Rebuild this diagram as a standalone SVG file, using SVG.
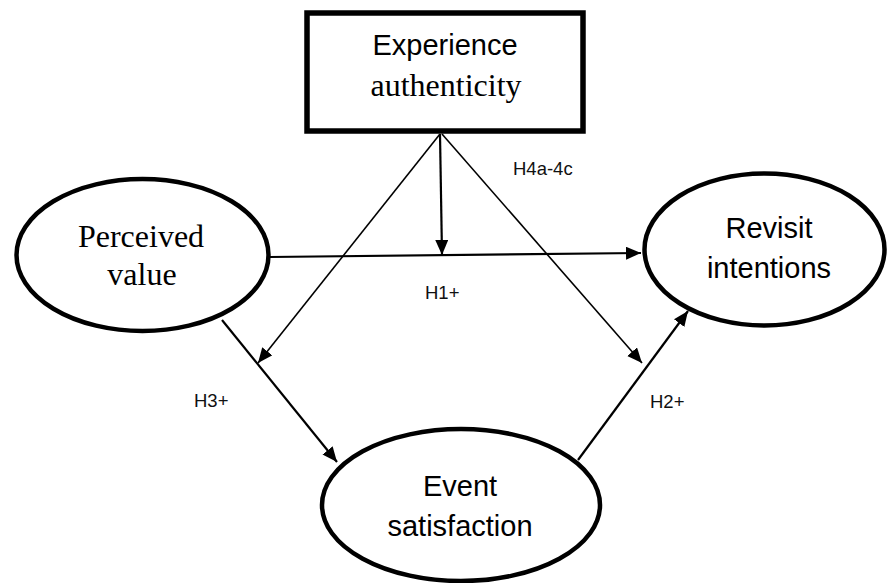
<svg xmlns="http://www.w3.org/2000/svg" width="888" height="583" viewBox="0 0 888 583">
<style>
.node{fill:#fff;stroke:#000;stroke-width:4.5}
.box{fill:#fff;stroke:#000;stroke-width:5.5}
.serif{font-family:"Liberation Serif","Times New Roman",serif;font-size:32px;fill:#000;text-anchor:middle}
.sans{font-family:"Liberation Sans",Arial,sans-serif;font-size:29px;fill:#000;text-anchor:middle}
.lbl{font-family:"Liberation Sans",Arial,sans-serif;font-size:18.5px;fill:#111}
.c{fill:none;stroke:#000;stroke-width:2.2}
.thin{stroke-width:1.6}
</style>
<defs>
<marker id="ah" markerUnits="userSpaceOnUse" markerWidth="16" markerHeight="14" refX="15" refY="6.5" orient="auto">
<path d="M0,0 L15,6.5 L0,13 z" fill="#000"/>
</marker>
</defs>
<rect width="888" height="583" fill="#fff"/>
<g id="connectors">
<line class="c" x1="270" y1="257" x2="641" y2="253" marker-end="url(#ah)"/>
<line class="c" x1="440" y1="134" x2="442" y2="255" marker-end="url(#ah)"/>
<line class="c thin" x1="440" y1="134" x2="258" y2="363" marker-end="url(#ah)"/>
<line class="c thin" x1="442" y1="134" x2="642" y2="363" marker-end="url(#ah)"/>
<line class="c" x1="222" y1="320" x2="337" y2="462" marker-end="url(#ah)"/>
<line class="c" x1="578" y1="460" x2="688" y2="311" marker-end="url(#ah)"/>
</g>
<g id="labels">
<text class="lbl" x="513" y="175">H4a-4c</text>
<text class="lbl" x="425" y="299">H1+</text>
<text class="lbl" x="194" y="407">H3+</text>
<text class="lbl" x="650" y="408">H2+</text>
</g>
<g id="experience-authenticity">
<rect class="box" x="307" y="13" width="276" height="118"/>
<text class="sans" x="445" y="55">Experience</text>
<text class="serif" x="446" y="96">authenticity</text>
</g>
<g id="perceived-value">
<ellipse class="node" cx="142.5" cy="255" rx="126" ry="76"/>
<text class="serif" x="141" y="247">Perceived</text>
<text class="serif" x="142" y="285">value</text>
</g>
<g id="revisit-intentions">
<ellipse class="node" cx="764.5" cy="249.5" rx="120" ry="76"/>
<text class="sans" x="769" y="238">Revisit</text>
<text class="sans" x="769" y="278">intentions</text>
</g>
<g id="event-satisfaction">
<ellipse class="node" cx="461" cy="505" rx="139" ry="76"/>
<text class="sans" x="460" y="496">Event</text>
<text class="sans" x="460" y="536">satisfaction</text>
</g>
</svg>
